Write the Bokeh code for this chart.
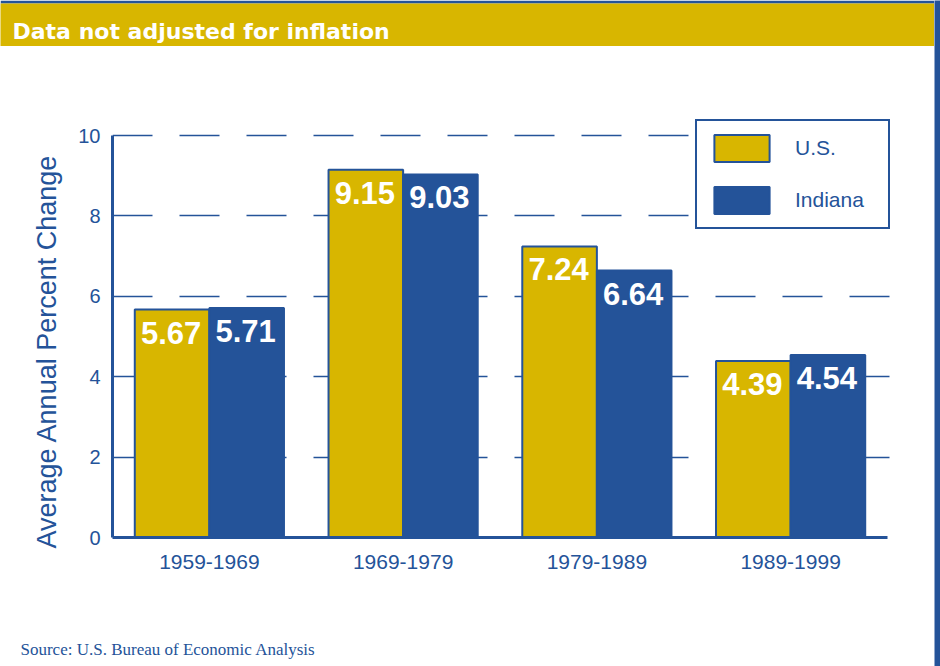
from bokeh.plotting import figure
from bokeh.layouts import column, row
from bokeh.models import (ColumnDataSource, Range1d, FixedTicker, Legend,
                          LegendItem, Label, Title)
from bokeh.core.properties import value
from bokeh.core.validation import silence
from bokeh.core.validation.warnings import MISSING_RENDERERS
from bokeh.embed import file_html
from bokeh.resources import INLINE

silence(MISSING_RENDERERS, True)

# ---- data ----
periods = ["1959-1969", "1969-1979", "1979-1989", "1989-1999"]
us = [5.67, 9.15, 7.24, 4.39]
indiana = [5.71, 9.03, 6.64, 4.54]
series_names = ["U.S.", "Indiana"]
y_ticks = [0, 2, 4, 6, 8, 10]
header_text = "Data not adjusted for inflation"
source_text = "Source: U.S. Bureau of Economic Analysis"
y_label = "Average Annual Percent Change"

GOLD = "#D8B600"
BLUE = "#245399"

# ---- header strip ----
hdr = figure(width=934, height=46, x_range=Range1d(0, 934), y_range=Range1d(0, 43),
             x_axis_type=None, y_axis_type=None, output_backend="svg", toolbar_location=None,
             min_border_top=3, min_border_left=0, min_border_right=0, min_border_bottom=0)
hdr.frame_align = False
hdr.background_fill_color = GOLD
hdr.border_fill_color = BLUE
hdr.outline_line_color = None
hdr.add_layout(Label(x=12, y=15, text=header_text, text_font="DejaVu Sans",
                     text_font_style="bold", text_font_size="22px", text_color="white",
                     text_baseline="alphabetic"))

# ---- main chart ----
BW = 0.385
centers = [i + 0.5 for i in range(len(periods))]
src = ColumnDataSource(dict(
    x_us=[c - BW / 2 for c in centers], x_in=[c + BW / 2 for c in centers],
    us=us, indiana=indiana,
    us_lbl=[f"{v:.2f}" for v in us],
    in_lbl=[f"{v:.2f}" for v in indiana],
))

p = figure(width=934, height=574,
           x_range=Range1d(0, 4.0413),
           y_range=Range1d(0, 10.622),
           output_backend="svg", toolbar_location=None,
           min_border_left=112, min_border_right=39,
           min_border_top=64, min_border_bottom=83)
p.frame_align = False
p.outline_line_color = None
p.background_fill_color = "white"
p.border_fill_color = "white"

r_us = p.vbar(x="x_us", top="us", bottom=0, width=BW,
              source=src, fill_color=GOLD, line_color=BLUE, line_width=2)
r_in = p.vbar(x="x_in", top="indiana", bottom=0, width=BW,
              source=src, fill_color=BLUE, line_color=BLUE, line_width=2)

lbl_kw = dict(text_align="center", text_baseline="alphabetic", y_offset=23, x_offset=-1,
              text_font=value("Liberation Sans"), text_font_style="bold",
              text_font_size="31px", text_color="white", source=src)
p.text(x="x_us", y="us", text="us_lbl", **lbl_kw)
p.text(x="x_in", y="indiana", text="in_lbl", **lbl_kw)

# axes
p.yaxis.ticker = FixedTicker(ticks=y_ticks)
p.yaxis.bounds = (0, 10)
p.xaxis.ticker = FixedTicker(ticks=centers)
p.xaxis.major_label_overrides = {c: name for c, name in zip(centers, periods)}
p.xaxis.bounds = (0, len(periods))
for ax in (p.xaxis[0], p.yaxis[0]):
    ax.axis_line_color = BLUE
    ax.axis_line_width = 3
    ax.major_tick_line_color = None
    ax.minor_tick_line_color = None
    ax.major_tick_out = 0
    ax.major_tick_in = 0
    ax.major_label_text_font = "Liberation Sans"
    ax.major_label_text_color = BLUE
p.yaxis.major_label_text_font_size = "20px"
p.yaxis.major_label_standoff = 12
p.xaxis.major_label_text_font_size = "21px"
p.xaxis.major_label_standoff = 17

p.add_layout(Title(text=y_label, align="left", offset=-11, standoff=28,
                   text_font="Liberation Sans", text_font_style="normal",
                   text_font_size="27px", text_color=BLUE), "left")

p.xgrid.grid_line_color = None
p.ygrid.grid_line_color = BLUE
p.ygrid.grid_line_width = 1.5
p.ygrid.grid_line_dash = "40 27"

legend = Legend(items=[LegendItem(label=series_names[0], renderers=[r_us]),
                       LegendItem(label=series_names[1], renderers=[r_in])],
                location=(583, 308), margin=0, padding=10, spacing=18,
                glyph_width=69, glyph_height=34, label_standoff=19, label_width=83,
                label_text_font="Liberation Sans", label_text_font_size="21px",
                label_text_color=BLUE, border_line_color=BLUE, border_line_width=2.5,
                border_line_alpha=1.0,
                background_fill_color="white", background_fill_alpha=1)
p.add_layout(legend)

# ---- footer strip ----
ftr = figure(width=934, height=46, x_range=Range1d(0, 934), y_range=Range1d(0, 46),
             x_axis_type=None, y_axis_type=None, output_backend="svg", toolbar_location=None,
             min_border_top=0, min_border_left=0, min_border_right=0, min_border_bottom=0)
ftr.frame_align = False
ftr.background_fill_color = "white"
ftr.border_fill_color = "white"
ftr.outline_line_color = None
ftr.add_layout(Label(x=20, y=17, text=source_text, text_font="Liberation Serif",
                     text_font_size="17px", text_color=BLUE, text_baseline="alphabetic"))

# ---- right edge rule ----
edge = figure(width=6, height=666, x_range=Range1d(0, 1), y_range=Range1d(0, 1),
              x_axis_type=None, y_axis_type=None, output_backend="svg", toolbar_location=None,
              min_border_top=0, min_border_left=0, min_border_right=0, min_border_bottom=0)
edge.frame_align = False
edge.background_fill_color = BLUE
edge.border_fill_color = BLUE
edge.outline_line_color = None

layout = row(column(hdr, p, ftr, spacing=0), edge, spacing=0)
open("out.html", "w").write(file_html(layout, INLINE))
